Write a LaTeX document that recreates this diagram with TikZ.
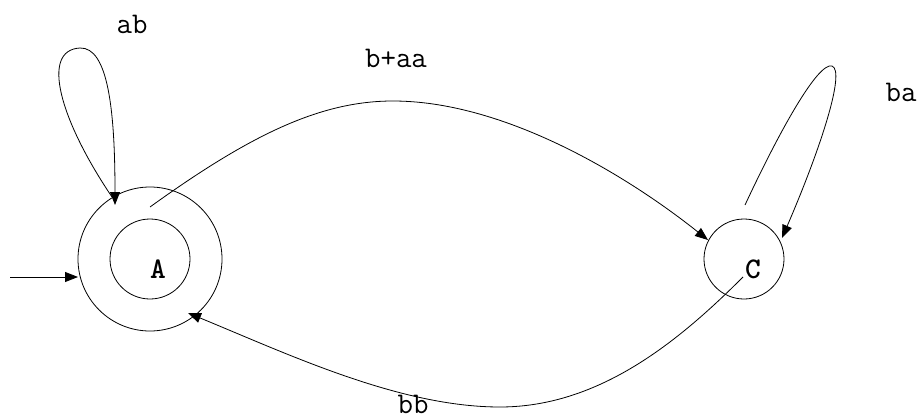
\documentclass[tikz,border=0pt]{standalone}
\usetikzlibrary{arrows.meta}
\begin{document}
\begin{tikzpicture}[x=1pt,y=-1pt,
  edge/.style={line width=0.8pt,-{Triangle[length=13pt,width=10pt]}},
  ring/.style={circle,draw,line width=0.8pt,inner sep=0pt},
  lbl/.style={font=\fontsize{30}{32}\selectfont\ttfamily,inner sep=0pt},
  statelbl/.style={font=\fontsize{30}{32}\selectfont\ttfamily\bfseries,inner sep=0pt}]
\useasboundingbox[fill=white] (0,0) rectangle (923,420);
% states
\node[ring,minimum size=144pt] (Aout) at (150,259) {};
\node[ring,minimum size=80pt] (A) at (150,259) {};
\node[statelbl] (Alabel) at (158,269) {A};
\node[ring,minimum size=80pt] (C) at (744,259) {};
\node[statelbl] (Clabel) at (753,269) {C};
% free ends
\coordinate (init) at (10,277);
\coordinate (initend) at (78,277);
\coordinate (Aloopstart) at (112,197);
\coordinate (Aloopend) at (115,205);
\coordinate (ACstart) at (150,207);
\coordinate (ACend) at (708,240);
\coordinate (Cloopstart) at (745,205);
\coordinate (Cloopend) at (782,238);
\coordinate (CAstart) at (743,277);
\coordinate (CAend) at (188,313);
% edges
\draw[edge] (init) -- (initend);
\draw[edge] (Aloopstart) .. controls (60,120) and (40,50) .. (80,48)
   .. controls (108,47) and (115,110) .. (Aloopend);
\draw[edge] (ACstart) .. controls (250,135) and (320,101) .. (393,101)
   .. controls (500,101) and (620,170) .. (ACend);
\draw[edge] (Cloopstart) .. controls (780,130) and (818,62) .. (832,66)
   .. controls (846,71) and (820,150) .. (Cloopend);
\draw[edge] (CAstart) .. controls (680,340) and (600,407) .. (500,407)
   .. controls (400,407) and (290,355) .. (CAend);
% labels
\node[lbl] (lab) at (132,24) {ab};
\node[lbl] (lbaa) at (396,58) {b+aa};
\node[lbl] (lba) at (901,92) {ba};
\node[lbl] (lbb) at (413,404) {bb};
\end{tikzpicture}
\end{document}
